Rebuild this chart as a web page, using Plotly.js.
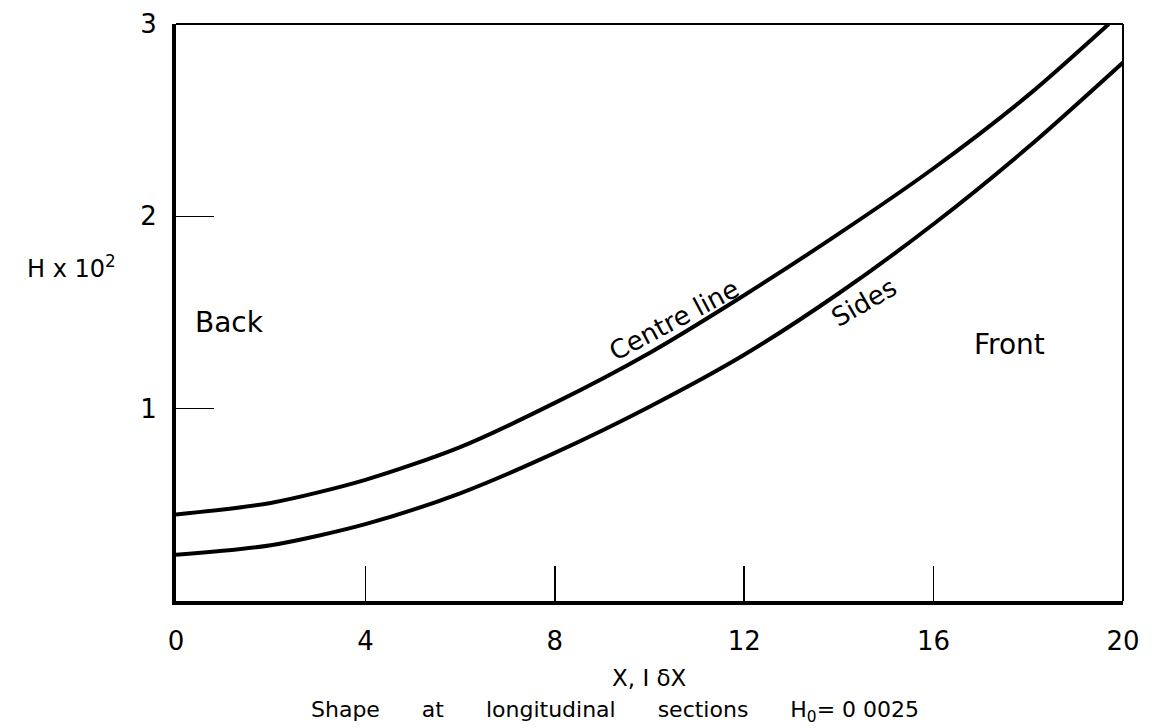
<!DOCTYPE html>
<html>
<head>
<meta charset="utf-8">
<script src="https://cdn.plot.ly/plotly-3.0.1.min.js"></script>
<style>html,body{margin:0;padding:0;background:#fff;}#chart{width:1157px;height:728px;}</style>
</head>
<body>
<div id="chart"></div>
<script>
// Data (H x 10^2 against X1/δX)
const centreX = [0, 2, 4, 6, 8, 10, 12, 14, 16, 18, 19.7];
const centreH = [0.45, 0.51, 0.63, 0.80, 1.03, 1.29, 1.59, 1.91, 2.25, 2.63, 3.0];
const sidesX  = [0, 2, 4, 6, 8, 10, 12, 14, 16, 18, 20];
const sidesH  = [0.24, 0.29, 0.40, 0.56, 0.77, 1.01, 1.28, 1.60, 1.96, 2.36, 2.80];
const xTicks = [0, 4, 8, 12, 16, 20];
const yTicks = [1, 2, 3];

const FONT = "DejaVu Sans";
const NB = '\u00a0';
const traces = [
  {x: centreX, y: centreH, mode: 'lines', name: 'Centre line',
   line: {color: '#000', width: 4, shape: 'spline', smoothing: 0.8}, hoverinfo: 'skip'},
  {x: sidesX, y: sidesH, mode: 'lines', name: 'Sides',
   line: {color: '#000', width: 4, shape: 'spline', smoothing: 0.8}, hoverinfo: 'skip'}
];

const caption = 'Shape' + NB.repeat(6) + 'at' + NB.repeat(6) + 'longitudinal' + NB.repeat(6) + 'sections' + NB.repeat(6) + 'H<sub>0</sub>= 0 0025';

const layout = {
  width: 1157, height: 728,
  margin: {l: 176, r: 34, t: 24, b: 127},
  paper_bgcolor: '#fff', plot_bgcolor: '#fff',
  showlegend: false,
  font: {family: FONT, color: '#000', size: 24},
  xaxis: {
    range: [0, 20], tickvals: xTicks, ticktext: xTicks.map(String),
    ticks: 'inside', ticklen: 35, tickwidth: 1.5, tickcolor: '#000',
    showline: true, linecolor: '#000', linewidth: 4, mirror: false,
    showgrid: false, zeroline: false, ticklabelstandoff: 14,
    tickfont: {family: FONT, size: 26, color: '#000'}
  },
  yaxis: {
    range: [0, 3], tickvals: yTicks, ticktext: yTicks.map(String),
    ticks: 'inside', ticklen: 38, tickwidth: 1.5, tickcolor: '#000',
    showline: true, linecolor: '#000', linewidth: 4, mirror: false,
    showgrid: false, zeroline: false, ticklabelstandoff: 10,
    tickfont: {family: FONT, size: 26, color: '#000'}
  },
  shapes: [
    {type: 'line', xref: 'paper', yref: 'paper', x0: 0, x1: 1, y0: 1, y1: 1, line: {color: '#000', width: 2}},
    {type: 'line', xref: 'paper', yref: 'paper', x0: 1, x1: 1, y0: 0, y1: 1, line: {color: '#000', width: 2}}
  ],
  annotations: [
    {text: 'H x 10<sup>2</sup>', xref: 'paper', yref: 'paper', x: -0.11, y: 0.579, xanchor: 'center', yanchor: 'middle', showarrow: false, font: {size: 24}},
    {text: 'Back', xref: 'paper', yref: 'paper', x: 0.018, y: 0.482, xanchor: 'left', yanchor: 'middle', showarrow: false, font: {size: 28}},
    {text: 'Front', xref: 'paper', yref: 'paper', x: 0.8405, y: 0.444, xanchor: 'left', yanchor: 'middle', showarrow: false, font: {size: 28}},
    {text: 'Centre line', xref: 'paper', yref: 'paper', x: 0.526, y: 0.487, xanchor: 'center', yanchor: 'middle', textangle: -28, showarrow: false, font: {size: 26}},
    {text: 'Sides', xref: 'paper', yref: 'paper', x: 0.727, y: 0.518, xanchor: 'center', yanchor: 'middle', textangle: -30, showarrow: false, font: {size: 26}},
    {text: 'X, I δX', xref: 'paper', yref: 'paper', x: 0.5, y: -0.133, xanchor: 'center', yanchor: 'middle', showarrow: false, font: {size: 23}},
    {text: caption, xref: 'paper', yref: 'paper', x: 0.4636, y: -0.1915, xanchor: 'center', yanchor: 'middle', showarrow: false, font: {size: 22}}
  ]
};

Plotly.newPlot('chart', traces, layout, {staticPlot: true, displayModeBar: false});
</script>
</body>
</html>
